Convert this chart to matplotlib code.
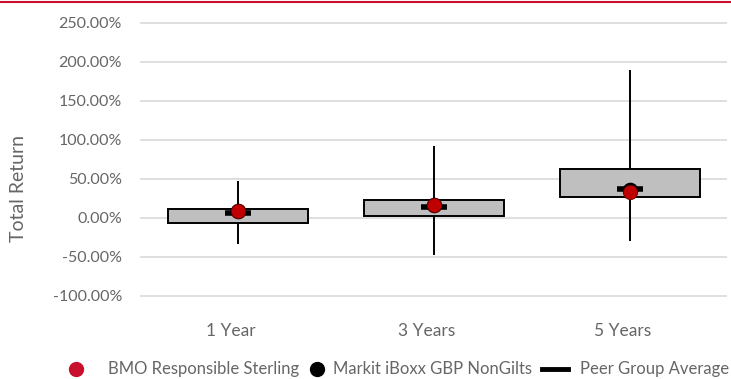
import matplotlib.pyplot as plt
import matplotlib.transforms as mtransforms
from matplotlib.lines import Line2D
from matplotlib.ticker import FuncFormatter

plt.rcParams['font.family'] = ['Lato', 'DejaVu Sans']

categories = ["1 Year", "3 Years", "5 Years"]
range_low = [-33.7, -47.4, -29.5]
range_high = [47.8, 92.3, 189.7]
quartile_low = [-6.8, 2.2, 26.5]
quartile_high = [11.2, 23.1, 63.2]
peer_avg = [6.0, 14.5, 36.8]
fund_return = [9.0, 16.2, 33.0]
index_return = [9.3, 17.0, 35.5]

fund_name = "BMO Responsible Sterling"
index_name = "Markit iBoxx GBP NonGilts"
peer_name = "Peer Group Average"

grey_text = "#666666"
W, H = 731, 379

fig = plt.figure(figsize=(W / 100, H / 100), dpi=100)
ax = fig.add_axes([140 / W, 1 - 342 / H, 587 / W, (342 - 12) / H])

x = list(range(len(categories)))

ax.vlines(x, range_low, range_high, color="black", lw=1.4, zorder=2)
ax.bar(x, [h - l for h, l in zip(quartile_high, quartile_low)], bottom=quartile_low,
       width=0.715, color="#bfbfbf", edgecolor="black", lw=1.4, zorder=3)
ax.scatter(x, peer_avg, marker="_", s=340, linewidths=4, color="black", zorder=4)
ax.scatter(x, index_return, marker="o", s=105, color="black", zorder=5)
ax.scatter(x, fund_return, marker="o", s=105, color="#c00000", edgecolor="#6a0000",
           linewidths=0.6, zorder=6)

ax.set_xlim(-0.4985, 2.496)
ax.set_ylim(-159, 264.1)
ax.set_yticks(range(-100, 251, 50))
ax.yaxis.set_major_formatter(FuncFormatter(lambda v, p: f"{v:.2f}%"))
ax.set_xticks(x)
ax.set_xticklabels(categories)
ax.tick_params(axis="both", length=0, labelcolor=grey_text)
ax.tick_params(axis="x", pad=-14, labelsize=12.5)
ax.tick_params(axis="y", pad=13, labelsize=11.5)
shift = mtransforms.ScaledTranslation(-7 / 100, 0, fig.dpi_scale_trans)
for lab in ax.get_xticklabels():
    lab.set_transform(lab.get_transform() + shift)

ax.grid(axis="y", color="#d9d9d9", lw=1.2, zorder=0)
ax.set_axisbelow(True)
for s in ax.spines.values():
    s.set_visible(False)

fig.text(19 / W, 1 - 188 / H, "Total Return", rotation=90, ha="center", va="center",
         fontsize=14, color=grey_text)

# accent rule across the top
fig.add_artist(Line2D([0, 1], [1 - 1.5 / H, 1 - 1.5 / H], color="#c8102e", lw=1.5))

# legend row
ly = 1 - 369 / H
fig.add_artist(Line2D([76 / W], [ly], ls="none", marker="o", markersize=10, color="#c8102e"))
fig.text(108 / W, ly, fund_name, va="center", ha="left", fontsize=12, color=grey_text)
fig.add_artist(Line2D([317 / W], [ly], ls="none", marker="o", markersize=10, color="black"))
fig.text(333 / W, ly, index_name, va="center", ha="left", fontsize=12, color=grey_text)
fig.add_artist(Line2D([542 / W, 568 / W], [ly, ly], color="black", lw=3.5))
fig.text(580 / W, ly, peer_name, va="center", ha="left", fontsize=12, color=grey_text)

fig.savefig("out.png", dpi=100)
